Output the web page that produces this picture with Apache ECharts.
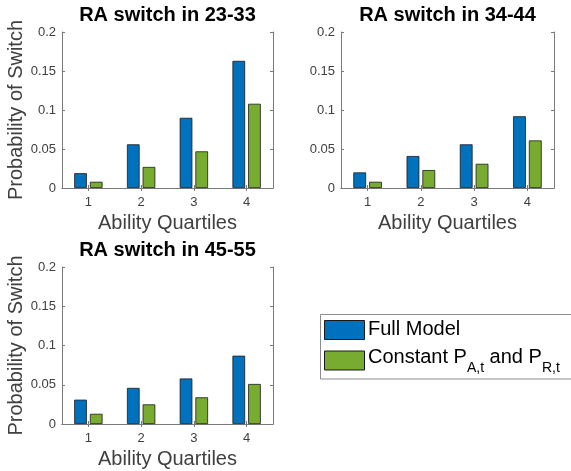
<!DOCTYPE html>
<html>
<head>
<meta charset="utf-8">
<script src="https://cdn.jsdelivr.net/npm/echarts@6/dist/echarts.min.js"></script>
<style>
  html, body { margin: 0; padding: 0; background: #fff; }
  #chart { width: 571px; height: 471px; }
</style>
</head>
<body>
<div id="chart"></div>
<script>
// Ability quartiles on the x axis
const quartiles = ['1', '2', '3', '4'];
const yTicks = [0, 0.05, 0.1, 0.15, 0.2];

// Probability of a switch, by age window
const full_23_33 = [0.019, 0.056, 0.090, 0.163];
const const_23_33 = [0.008, 0.027, 0.047, 0.108];
const full_34_44 = [0.020, 0.041, 0.056, 0.092];
const const_34_44 = [0.008, 0.023, 0.031, 0.061];
const full_45_55 = [0.031, 0.046, 0.058, 0.087];
const const_45_55 = [0.013, 0.025, 0.034, 0.051];

const panelTitles = ['RA switch in 23-33', 'RA switch in 34-44', 'RA switch in 45-55'];
const seriesNames = ['Full Model', 'Constant P_A,t and P_R,t'];

const BLUE = '#0072BD';
const GREEN = '#77AC30';
const FONT = '"Liberation Sans", Arial, Helvetica, sans-serif';
const AXIS_COLOR = '#7a7a7a';
const TEXT_COLOR = '#404040';

const panels = [
  { grid: { left: 62, top: 32, width: 211, height: 156 }, full: full_23_33, cons: const_23_33, yName: true },
  { grid: { left: 341, top: 32, width: 213, height: 156 }, full: full_34_44, cons: const_34_44, yName: false },
  { grid: { left: 62, top: 267, width: 211, height: 157 }, full: full_45_55, cons: const_45_55, yName: true }
];

const option = {
  animation: false,
  backgroundColor: '#fff',
  title: [],
  grid: [],
  xAxis: [],
  yAxis: [],
  series: [],
  graphic: []
};

panels.forEach((p, i) => {
  option.grid.push(Object.assign({ containLabel: false }, p.grid));
  option.title.push({
    text: panelTitles[i],
    left: p.grid.left + p.grid.width / 2,
    top: p.grid.top - 27,
    textAlign: 'center',
    padding: 0,
    textStyle: { fontFamily: FONT, fontSize: 20, fontWeight: 'bold', color: '#000' }
  });
  // bottom category axis
  option.xAxis.push({
    type: 'category', gridIndex: i, data: quartiles, position: 'bottom',
    axisLine: { show: true, lineStyle: { color: AXIS_COLOR, width: 1 } },
    axisTick: { show: true, inside: true, alignWithLabel: true, length: 3, lineStyle: { color: AXIS_COLOR } },
    axisLabel: { show: true, margin: 8, fontFamily: FONT, fontSize: 13, color: TEXT_COLOR },
    name: 'Ability Quartiles', nameLocation: 'middle', nameGap: 25,
    nameTextStyle: { fontFamily: FONT, fontSize: 20, color: TEXT_COLOR },
    splitLine: { show: false }
  });
  // left value axis
  option.yAxis.push({
    type: 'value', gridIndex: i, min: 0, max: 0.2, interval: 0.05, position: 'left',
    axisLine: { show: true, lineStyle: { color: AXIS_COLOR, width: 1 } },
    axisTick: { show: true, inside: true, length: 3, lineStyle: { color: AXIS_COLOR } },
    axisLabel: {
      show: true, margin: 6, fontFamily: FONT, fontSize: 13, color: TEXT_COLOR,
      formatter: v => String(+v.toFixed(2))
    },
    name: p.yName ? 'Probability of Switch' : '', nameLocation: 'middle', nameGap: 35,
    nameTextStyle: { fontFamily: FONT, fontSize: 20, color: TEXT_COLOR },
    splitLine: { show: false }
  });
});

// box edges: top and right axes with inward ticks
panels.forEach((p, i) => {
  option.xAxis.push({
    type: 'category', gridIndex: i, data: quartiles, position: 'top',
    axisLine: { show: true, lineStyle: { color: AXIS_COLOR, width: 1 } },
    axisTick: { show: true, inside: true, alignWithLabel: true, length: 3, lineStyle: { color: AXIS_COLOR } },
    axisLabel: { show: false }, splitLine: { show: false }
  });
  option.yAxis.push({
    type: 'value', gridIndex: i, min: 0, max: 0.2, interval: 0.05, position: 'right',
    axisLine: { show: true, lineStyle: { color: AXIS_COLOR, width: 1 } },
    axisTick: { show: true, inside: true, length: 3, lineStyle: { color: AXIS_COLOR } },
    axisLabel: { show: false }, splitLine: { show: false }
  });
});

panels.forEach((p, i) => {
  [[p.full, BLUE, seriesNames[0]], [p.cons, GREEN, seriesNames[1]]].forEach(([vals, color, name]) => {
    option.series.push({
      type: 'bar', name: name, xAxisIndex: i, yAxisIndex: i, data: vals,
      barWidth: '24%', barGap: '24%',
      itemStyle: { color: color, borderColor: '#1a1a1a', borderWidth: 0.8 }
    });
  });
});

// legend box with subscripted labels
function textWidth(str, size) {
  const ctx = document.createElement('canvas').getContext('2d');
  ctx.font = size + 'px ' + FONT;
  return ctx.measureText(str).width;
}

const legendX = 320, legendY = 314;
option.graphic.push({
  type: 'rect', shape: { x: legendX + 0.5, y: legendY + 0.5, width: 262, height: 64.5 },
  style: { fill: '#fff', stroke: '#8c8c8c', lineWidth: 1 }, z: 10
});
option.graphic.push({
  type: 'rect', shape: { x: 324.5, y: 320.5, width: 40, height: 19 },
  style: { fill: BLUE, stroke: '#1a1a1a', lineWidth: 1 }, z: 11
});
option.graphic.push({
  type: 'rect', shape: { x: 324.5, y: 351, width: 40, height: 19 },
  style: { fill: GREEN, stroke: '#1a1a1a', lineWidth: 1 }, z: 11
});
option.graphic.push({
  type: 'text', x: 368, y: 329.5, z: 11,
  style: { text: 'Full Model', font: '20px ' + FONT, fill: '#000', verticalAlign: 'middle', align: 'left' }
});

// "Constant P_{A,t} and P_{R,t}"
const parts = [
  ['Constant P', 20, 357.3],
  ['A,t', 14, 368.6],
  [' and P', 20, 357.3],
  ['R,t', 14, 368.6]
];
let cx = 368;
parts.forEach(([str, size, y]) => {
  option.graphic.push({
    type: 'text', x: cx, y: y, z: 11,
    style: { text: str, font: size + 'px ' + FONT, fill: '#000', verticalAlign: 'middle', align: 'left' }
  });
  cx += textWidth(str, size);
});

const chart = echarts.init(document.getElementById('chart'), null, { renderer: 'canvas' });
chart.setOption(option);
</script>
</body>
</html>
